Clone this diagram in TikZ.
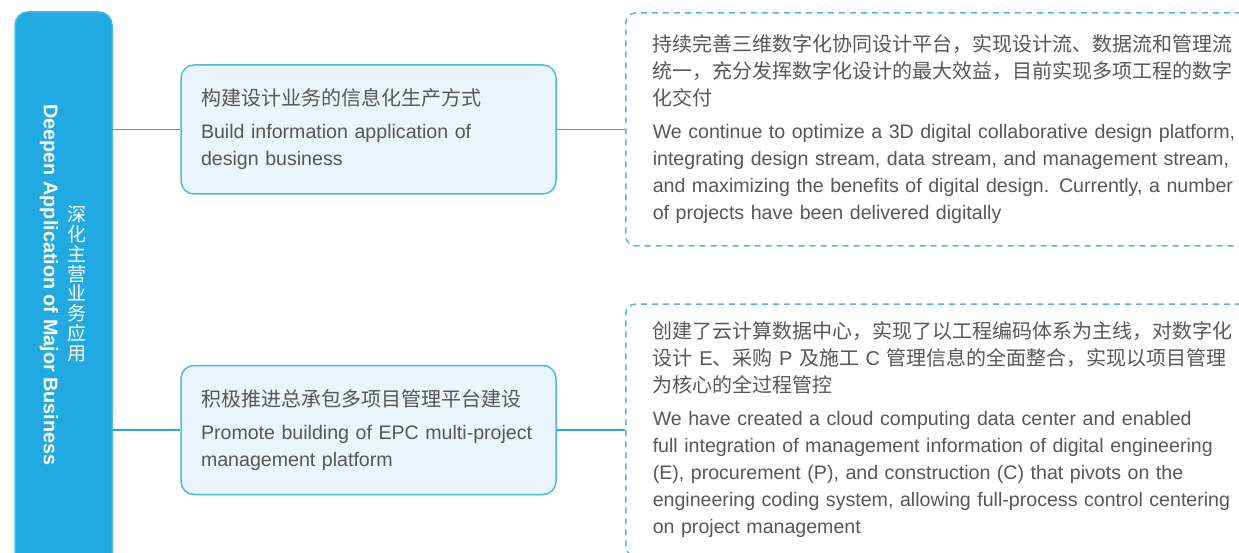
\documentclass[tikz,border=0pt]{standalone}
\usepackage{fontspec}
\setmainfont{Liberation Sans}
\newfontfamily\cjk{Noto Sans CJK SC}
\usetikzlibrary{positioning}
\definecolor{barblue}{HTML}{21A9E1}
\definecolor{edgeblue}{HTML}{4DB8E8}
\definecolor{paleblue}{HTML}{E9F4FB}
\definecolor{textgray}{HTML}{575757}
\newcommand{\zhline}[1]{{\fontsize{20}{27}\selectfont\cjk #1}}

\begin{document}
\begin{tikzpicture}[x=1pt,y=-1pt,line width=1.5pt,
  every node/.style={font=\fontsize{19.6}{27}\selectfont,text=textgray},
  bar/.style={fill=barblue,draw=edgeblue,rounded corners=13pt,
    minimum width=97pt,minimum height=560pt,inner sep=0pt},
  taskbox/.style={draw=edgeblue,fill=paleblue,rounded corners=13pt,
    minimum width=375pt,minimum height=129pt,inner xsep=20pt,
    text width=335pt,align=left},
  detailbox/.style={draw=edgeblue,dash pattern=on 6pt off 5pt,
    rounded corners=10pt,minimum width=680pt,inner xsep=27pt,
    text width=626pt,align=left},
  link/.style={draw=barblue,line width=1.8pt}]
 \useasboundingbox (0,0) rectangle (1239,553);
 % left bar
 \node[bar] (bar) at (63.5,292) {};
 \node[rotate=-90,text=white,font=\fontsize{19.8}{20}\selectfont\bfseries]
   (barEn) at (49,285) {Deepen Application of Major Business};
 \node[text=white,align=center,inner sep=0pt,
   font=\fontsize{19}{19.75}\selectfont\cjk]
   (barZh) at (77,284) {深\\化\\主\\营\\业\\务\\应\\用};
 % middle boxes
 \node[taskbox] (taskA) at (368.5,129.5)
   {\zhline{构建设计业务的信息化生产方式}\\[6pt]
    Build information application of\\design business};
 \node[taskbox] (taskB) at (368.5,430)
   {\zhline{积极推进总承包多项目管理平台建设}\\[6pt]
    Promote building of EPC multi-project\\management platform};
 % dashed boxes
 \node[detailbox,minimum height=233pt,anchor=west] (detailA) at (625,129.5)
   {\zhline{持续完善三维数字化协同设计平台，实现设计流、数据流和管理流\\
     统一，充分发挥数字化设计的最大效益，目前实现多项工程的数字\\
     化交付}\\[6pt]
    We continue to optimize a 3D digital collaborative design platform,\\
    integrating design stream, data stream, and management stream,\\
    and maximizing the benefits of digital design. Currently, a number\\
    of projects have been delivered digitally};
 \node[detailbox,minimum height=252pt,anchor=west] (detailB) at (625,430)
   {\zhline{创建了云计算数据中心，实现了以工程编码体系为主线，对数字化\\
     设计{\normalfont\ E}、采购{\normalfont\ P }及施工{\normalfont\ C }管理信息的全面整合，实现以项目管理\\
     为核心的全过程管控}\\[6pt]
    We have created a cloud computing data center and enabled\\
    full integration of management information of digital engineering\\
    (E), procurement (P), and construction (C) that pivots on the\\
    engineering coding system, allowing full-process control centering\\
    on project management};
 % connectors
 \draw[link] (bar.east |- taskA.west) -- (taskA.west);
 \draw[link] (taskA.east) -- (detailA.west);
 \draw[link] (bar.east |- taskB.west) -- (taskB.west);
 \draw[link] (taskB.east) -- (detailB.west);
\end{tikzpicture}
\end{document}
